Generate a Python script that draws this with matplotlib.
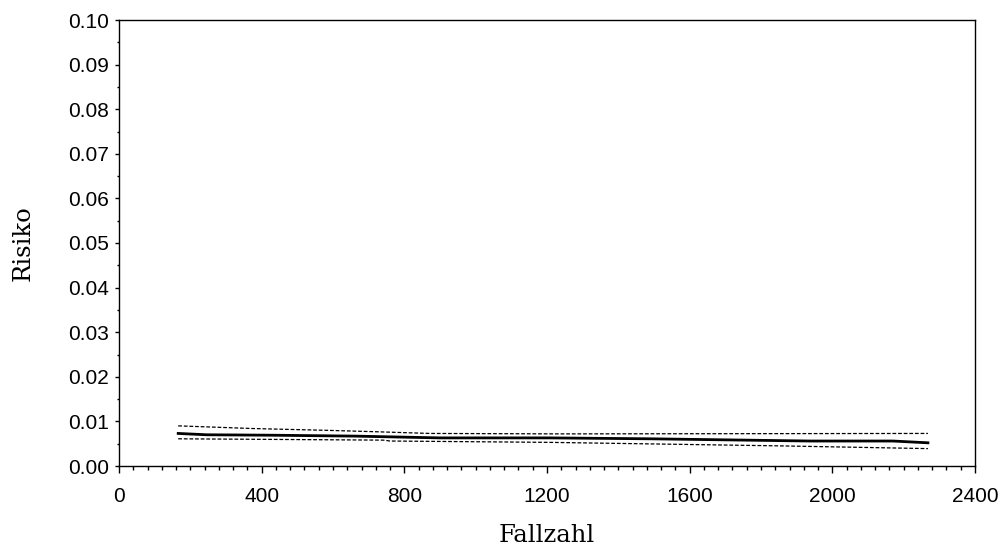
import matplotlib
matplotlib.use("Agg")
import matplotlib.pyplot as plt
from matplotlib.ticker import MultipleLocator, FormatStrFormatter

# Data
fallzahl = [166, 246, 432, 662, 900, 1208, 1489, 1937, 2170, 2268]
risiko = [0.0073, 0.0070, 0.0069, 0.0067, 0.0063, 0.0063, 0.0061, 0.0056, 0.0056, 0.0052]

upper_x = [166, 376, 582, 713, 872, 1237, 2268]
upper_y = [0.0090, 0.0084, 0.0080, 0.0077, 0.0073, 0.0072, 0.0073]

lower_x = [166, 741, 760, 1208, 1862, 2268]
lower_y = [0.0061, 0.0058, 0.0056, 0.0053, 0.0045, 0.0039]

fig = plt.figure(figsize=(10.04, 5.51), dpi=100)
ax = fig.add_axes([119/1004, 1-466/551, (975-119)/1004, (466-20)/551])

ax.plot(fallzahl, risiko, color="black", lw=2.0)
ax.plot(upper_x, upper_y, color="black", lw=0.9, ls=(0, (3, 1.5)))
ax.plot(lower_x, lower_y, color="black", lw=0.9, ls=(0, (3, 1.5)))

ax.set_xlim(0, 2400)
ax.set_ylim(0, 0.10)
ax.xaxis.set_major_locator(MultipleLocator(400))
ax.xaxis.set_minor_locator(MultipleLocator(40))
ax.yaxis.set_major_locator(MultipleLocator(0.01))
ax.yaxis.set_minor_locator(MultipleLocator(0.005))
ax.yaxis.set_major_formatter(FormatStrFormatter("%.2f"))

ax.tick_params(axis="x", which="major", length=5, width=1, direction="out", pad=10)
ax.tick_params(axis="x", which="minor", length=3, width=1, direction="out")
ax.tick_params(axis="y", which="major", length=3.2, width=1, direction="out", pad=4)
ax.tick_params(axis="y", which="minor", length=1.6, width=1, direction="out")
ax.tick_params(axis="both", labelsize=15)
for lab in ax.get_xticklabels() + ax.get_yticklabels():
    lab.set_fontfamily("Liberation Sans")

for s in ax.spines.values():
    s.set_linewidth(1)

ax.set_xlabel("Fallzahl", family="DejaVu Serif", fontsize=17.5, labelpad=13)
ax.set_ylabel("Risiko", family="DejaVu Serif", fontsize=17.5, labelpad=24)

fig.savefig("out.png", dpi=100)
